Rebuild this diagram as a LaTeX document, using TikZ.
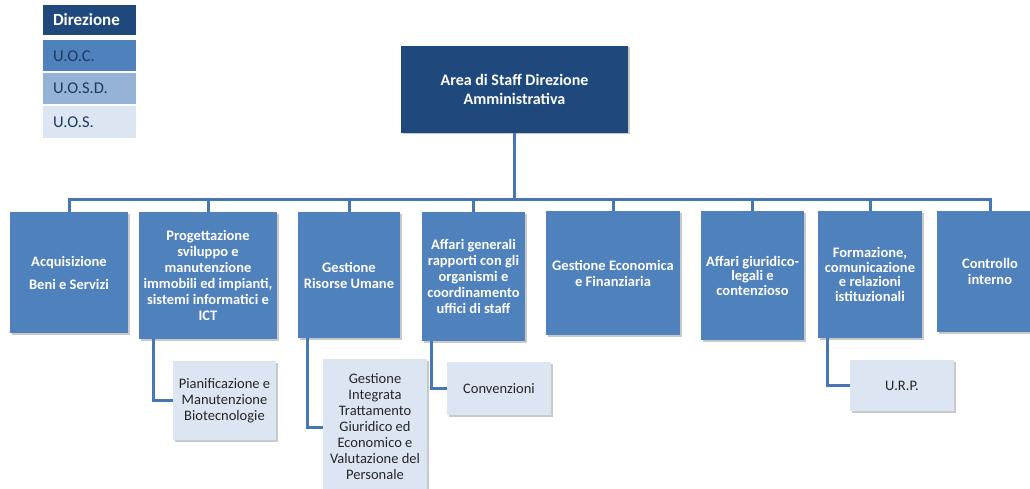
\documentclass[tikz,border=0pt]{standalone}
\usepackage{fontspec}
\setmainfont{Carlito}
\usepackage{tikz}
\usetikzlibrary{shapes, shadows}

\definecolor{dirblue}{HTML}{1F497D}
\definecolor{uocblue}{HTML}{4F81BD}
\definecolor{uosdblue}{HTML}{95B3D7}
\definecolor{uosblue}{HTML}{DCE6F2}
\definecolor{linkblue}{HTML}{4776B4}
\definecolor{navytext}{HTML}{1F3864}

\begin{document}
\begin{tikzpicture}[x=1pt, y=-1pt]
			\useasboundingbox (0,0) rectangle (1030,489);
			\clip (0,0) rectangle (1030,489);
			\tikzstyle{every node} = [font = \fontsize{14.5}{16}\selectfont, align = center, inner sep = 2pt]
			\tikzstyle{softshadow} = [drop shadow = {shadow xshift = 1.5pt, shadow yshift = -1.5pt, opacity = 0.3, fill = black!70}]
			\tikzstyle{legend} = [text width = 73pt, align = left, inner xsep = 10pt, minimum height = 30pt, font = \fontsize{16.5}{18}\selectfont, text = navytext]
			\tikzstyle{direzione} = [softshadow, fill = dirblue, text = white, font = \bfseries\fontsize{16}{19}\selectfont]
			\tikzstyle{uoc} = [softshadow, fill = uocblue, text = white, font = \bfseries\fontsize{14.5}{16}\selectfont]
			\tikzstyle{uos} = [softshadow, fill = uosblue, text = black!85]
			\tikzstyle{link} = [draw = linkblue, line width = 3pt]
				\node[legend, fill = dirblue, text = white, font = \bfseries\fontsize{17}{18}\selectfont] (legdir) at (89.5,20) {Direzione};
				\node[legend, fill = uocblue, minimum height = 31pt] (leguoc) at (89.5,56) {U.O.C.};
				\node[legend, fill = uosdblue, minimum height = 31pt] (leguosd) at (89.5,88.5) {U.O.S.D.};
				\node[legend, fill = uosblue, minimum height = 32pt] (leguos) at (89.5,122) {U.O.S.};
				\node[direzione, minimum width = 227pt, minimum height = 87pt] (staff) at (514.5,89.5)
					{Area di Staff Direzione\\Amministrativa};
				\node[uoc, minimum width = 118pt, minimum height = 121pt] (acq) at (69,272.5)
					{Acquisizione\\[7pt]Beni e Servizi};
				\node[uoc, minimum width = 138pt, minimum height = 127pt] (prog) at (208,275.5)
					{Progettazione\\sviluppo e\\manutenzione\\immobili ed impianti,\\sistemi informatici e\\ICT};
				\node[uoc, minimum width = 102pt, minimum height = 126pt] (gru) at (349,275)
					{Gestione\\Risorse Umane};
				\node[uoc, minimum width = 103pt, minimum height = 129pt] (aff) at (473.5,276.5)
					{Affari generali\\rapporti con gli\\organismi e\\coordinamento\\uffici di staff};
				\node[uoc, minimum width = 134pt, minimum height = 124pt] (gec) at (613,273)
					{Gestione Economica\\e Finanziaria};
				\node[uoc, minimum width = 103pt, minimum height = 129pt, font = \bfseries\fontsize{14.5}{14.5}\selectfont] (agl) at (752.5,275.5)
					{Affari giuridico-\\legali e\\contenzioso};
				\node[uoc, minimum width = 104pt, minimum height = 127pt, font = \bfseries\fontsize{14.5}{14.5}\selectfont] (form) at (870,274.5)
					{Formazione,\\comunicazione\\e relazioni\\istituzionali};
				\node[uoc, minimum width = 106pt, minimum height = 121pt] (ctrl) at (990,271.5)
					{Controllo\\interno};
				\node[uos, minimum width = 103pt, minimum height = 79pt] (pian) at (224.5,400.5)
					{Pianificazione e\\Manutenzione\\Biotecnologie};
				\node[uos, minimum width = 104pt, minimum height = 136pt] (gint) at (375,427)
					{Gestione\\Integrata\\Trattamento\\Giuridico ed\\Economico e\\Valutazione del\\Personale};
				\node[uos, minimum width = 104pt, minimum height = 53pt] (conv) at (499,388.5)
					{Convenzioni};
				\node[uos, minimum width = 104pt, minimum height = 51pt] (urp) at (902,385.5)
					{U.R.P.};
				\coordinate (bus) at (0,200);
				\foreach \unit in {acq, prog, gru, aff, gec, agl, form, ctrl}
					\path[link] (staff.south) |- (bus -| \unit.north) -- (\unit.north);
				\path[link] ([xshift = 15pt]prog.south west) |- (pian.west);
				\path[link] ([xshift = 10pt]gru.south west) |- (gint.west);
				\path[link] ([xshift = 10pt]aff.south west) |- (conv.west);
				\path[link] ([xshift = 10pt]form.south west) |- (urp.west);
\end{tikzpicture}
\end{document}
